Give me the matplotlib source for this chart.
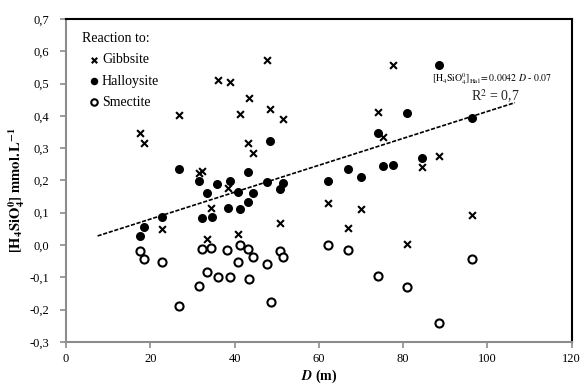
import numpy as np
import matplotlib
matplotlib.use('Agg')
import matplotlib.pyplot as plt
from matplotlib.ticker import FuncFormatter, MultipleLocator

# depth D (m) and [H4SiO4] (mmol/L)
gib_d = [17.5, 18.6, 22.7, 26.8, 31.5, 32.2, 33.4, 34.5, 36.0, 38.4,
         38.9, 40.9, 41.4, 43.2, 43.4, 44.4, 47.8, 48.5, 50.8, 51.4,
         62.2, 67.0, 69.9, 74.1, 75.1, 77.6, 80.9, 84.4, 88.6, 96.3]
gib_c = [0.346, 0.315, 0.050, 0.402, 0.222, 0.230, 0.020, 0.115, 0.510, 0.176,
         0.505, 0.033, 0.405, 0.317, 0.455, 0.284, 0.572, 0.422, 0.067, 0.389,
         0.131, 0.052, 0.111, 0.413, 0.334, 0.558, 0.002, 0.243, 0.276, 0.093]

hal_d = [17.5, 18.5, 22.7, 26.8, 31.6, 32.3, 33.4, 34.6, 35.9, 38.4,
         38.9, 40.8, 41.4, 43.2, 43.3, 44.3, 47.8, 48.5, 50.8, 51.4,
         62.2, 67.0, 69.9, 74.1, 75.2, 77.6, 80.9, 84.4, 88.6, 96.3]
hal_c = [0.028, 0.057, 0.087, 0.236, 0.198, 0.085, 0.162, 0.088, 0.189, 0.114,
         0.199, 0.163, 0.111, 0.132, 0.226, 0.162, 0.196, 0.321, 0.172, 0.192,
         0.199, 0.236, 0.210, 0.347, 0.246, 0.247, 0.410, 0.269, 0.558, 0.393]

sme_d = [17.5, 18.5, 22.7, 26.8, 31.6, 32.3, 33.4, 34.5, 36.0, 38.3,
         39.0, 40.9, 41.3, 43.2, 43.5, 44.4, 47.7, 48.6, 50.7, 51.5,
         62.2, 67.0, 74.1, 81.0, 88.6, 96.3]
sme_c = [-0.018, -0.044, -0.054, -0.188, -0.128, -0.012, -0.083, -0.008, -0.098, -0.014,
         -0.098, -0.054, 0.000, -0.012, -0.104, -0.037, -0.058, -0.178, -0.020, -0.037,
         0.000, -0.014, -0.095, -0.129, -0.242, -0.044]

trend_range = [7.5, 106.5]

plt.rcParams['font.family'] = ['Liberation Serif', 'DejaVu Serif']
plt.rcParams['mathtext.fontset'] = 'stix'

fig = plt.figure(figsize=(5.84, 3.88), dpi=100)
ax = fig.add_axes([0.113, 0.119, 0.866, 0.832])

ax.scatter(gib_d, gib_c, marker='x', s=24, c='black', linewidths=1.5, label='Gibbsite', zorder=3)
ax.scatter(hal_d, hal_c, marker='o', s=30, c='black', label='Halloysite', zorder=3)
ax.scatter(sme_d, sme_c, marker='o', s=34, facecolors='white', edgecolors='black',
           linewidths=1.5, label='Smectite', zorder=3)

# linear trend on halloysite
k, b = np.polyfit(hal_d, hal_c, 1)
xt = np.array(trend_range)
ax.plot(xt, k * xt + b, color='black', ls=(0, (2.5, 1)), lw=1.2, zorder=2)

ax.text(0.960, 0.815, r'$[\mathrm{H_4SiO_4^0}]_{\mathrm{Hal}}=0.0042\ D$ - $0.07$',
        transform=ax.transAxes, ha='right', va='center', fontsize=7)
ax.text(0.848, 0.762, r'R$^2$ = 0,7', transform=ax.transAxes,
        ha='center', va='center', fontsize=10, color='#222222')

ax.set_xlim(0, 120)
ax.set_ylim(-0.3, 0.7)
ax.xaxis.set_major_locator(MultipleLocator(20))
ax.yaxis.set_major_locator(MultipleLocator(0.1))
ax.yaxis.set_major_formatter(FuncFormatter(lambda v, p: ('%.1f' % v).replace('.', ',')))

for side in ['left', 'bottom']:
    ax.spines[side].set_color('#8c8c8c')
    ax.spines[side].set_linewidth(1.5)
for side in ['top', 'right']:
    ax.spines[side].set_color('black')
    ax.spines[side].set_linewidth(1.5)
ax.tick_params(axis='both', direction='out', length=4, width=1.2, color='#8c8c8c',
               labelsize=9)
ax.tick_params(axis='y', pad=8)
ax.tick_params(axis='x', pad=4)

ax.set_xlabel(r'$\boldsymbol{D}$ (m)', fontsize=10, fontweight='bold', labelpad=2)
ax.set_ylabel(r'$\mathbf{[H_4SiO_4^0]\ mmol.L^{-1}}$', fontsize=10.5)
ax.yaxis.set_label_coords(-0.078, 0.47)

leg = ax.legend(title='Reaction to:', loc='upper left', bbox_to_anchor=(0.012, 0.99),
                frameon=False, fontsize=10, title_fontsize=10, handlelength=1.75,
                handletextpad=-0.3, labelspacing=0.6, alignment='left',
                markerscale=0.8, borderaxespad=0.3)

fig.savefig('out.png', dpi=100)
